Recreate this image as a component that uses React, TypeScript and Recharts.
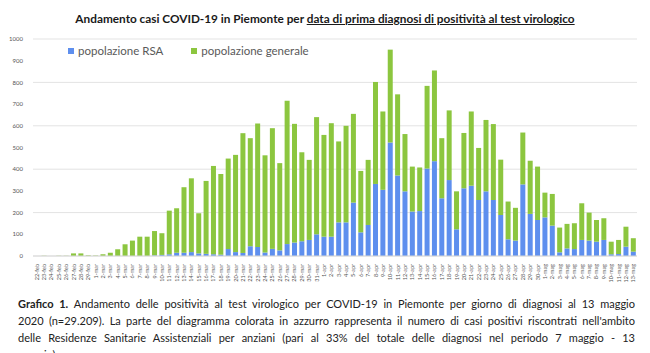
import React from "react";
import { BarChart, Bar, XAxis, YAxis, CartesianGrid } from "recharts";

const dates = [
  "22-feb","23-feb","24-feb","25-feb","26-feb","27-feb","28-feb","29-feb",
  "1-mar","2-mar","3-mar","4-mar","5-mar","6-mar","7-mar","8-mar","9-mar","10-mar",
  "11-mar","12-mar","13-mar","14-mar","15-mar","16-mar","17-mar","18-mar","19-mar","20-mar",
  "21-mar","22-mar","23-mar","24-mar","25-mar","26-mar","27-mar","28-mar","29-mar","30-mar","31-mar",
  "1-apr","2-apr","3-apr","4-apr","5-apr","6-apr","7-apr","8-apr","9-apr","10-apr",
  "11-apr","12-apr","13-apr","14-apr","15-apr","16-apr","17-apr","18-apr","19-apr","20-apr",
  "21-apr","22-apr","23-apr","24-apr","25-apr","26-apr","27-apr","28-apr","29-apr","30-apr",
  "1-mag","2-mag","3-mag","4-mag","5-mag","6-mag","7-mag","8-mag","9-mag","10-mag",
  "11-mag","12-mag","13-mag",
];

const rsa = [
  0,0,0,0,0,0,0,0,
  0,0,0,0,0,0,0,0,3,5,
  8,15,15,18,12,10,8,6,32,18,
  14,45,42,16,33,26,55,62,68,74,100,
  89,89,155,155,246,109,143,332,305,523,
  371,298,205,207,403,437,266,350,123,312,
  324,258,298,258,189,77,71,330,194,166,
  178,140,17,35,32,74,71,66,74,8,
  9,43,20,
];

const generale = [
  0,1,0,1,1,12,12,3,
  2,8,15,31,54,71,89,89,112,100,
  201,205,302,340,185,336,407,372,417,448,
  552,498,569,448,556,402,660,547,410,369,540,
  469,523,373,445,409,283,300,470,361,428,
  374,264,207,201,381,418,277,321,175,255,
  342,240,329,350,255,174,151,239,245,246,
  114,146,114,113,119,169,129,100,100,58,
  65,92,62,
];

const yTicks = [0, 100, 200, 300, 400, 500, 600, 700, 800, 900, 1000];

const captionLines = [
  "Andamento delle positività al test virologico per COVID-19 in Piemonte per giorno di diagnosi al 13 maggio",
  "2020 (n=29.209). La parte del diagramma colorata in azzurro rappresenta il numero di casi positivi riscontrati nell'ambito",
  "delle Residenze Sanitarie Assistenziali per anziani (pari al 33% del totale delle diagnosi nel periodo 7 maggio - 13",
  "maggio).",
];

const data = dates.map((d, i) => ({ date: d, rsa: rsa[i], generale: generale[i] }));

const BLUE = "#5E8FEE";
const GREEN = "#8CC63F";
const FONT = "'Lato', 'DejaVu Sans', sans-serif";

const XTick = (props: any) => {
  const { x, y, payload } = props;
  return (
    <text
      x={x}
      y={y}
      transform={`rotate(-90 ${x} ${y})`}
      textAnchor="end"
      dominantBaseline="central"
      fontSize={5.5}
      fill="#555"
      fontFamily={FONT}
    >
      {payload.value}
    </text>
  );
};

export default function App() {
  return (
    <div
      style={{
        position: "fixed",
        left: 0,
        top: 0,
        width: 650,
        height: 353,
        background: "#fff",
        overflow: "hidden",
        fontFamily: FONT,
      }}
    >
      <div
        style={{
          position: "absolute",
          top: 11,
          left: 0,
          width: 650,
          textAlign: "center",
          fontWeight: 700,
          fontSize: 11.8,
          color: "#1a1a1a",
        }}
      >
        Andamento casi COVID-19 in Piemonte per{" "}
        <span style={{ textDecoration: "underline" }}>
          data di prima diagnosi di positività al test virologico
        </span>
      </div>
      <div style={{ position: "absolute", left: 0, top: 0 }}>
        <BarChart
          width={650}
          height={290}
          data={data}
          margin={{ top: 39, right: 13, bottom: 0, left: 0 }}
          barCategoryGap="16%"
        >
          <CartesianGrid vertical={false} stroke="#e3e3e3" />
          <XAxis
            dataKey="date"
            interval={0}
            tick={<XTick />}
            tickLine={false}
            axisLine={{ stroke: "#d9d9d9" }}
            height={34}
            tickMargin={2}
          />
          <YAxis
            domain={[0, 1000]}
            ticks={yTicks}
            width={33}
            axisLine={false}
            tickLine={false}
            tick={{ fontSize: 6, fill: "#555", fontFamily: FONT }}
            tickMargin={4}
          />
          <Bar dataKey="rsa" stackId="a" fill={BLUE} isAnimationActive={false} />
          <Bar dataKey="generale" stackId="a" fill={GREEN} isAnimationActive={false} />
        </BarChart>
      </div>
      <div
        style={{
          position: "absolute",
          left: 68,
          top: 44,
          display: "flex",
          alignItems: "center",
          fontSize: 11.5,
          color: "#595959",
        }}
      >
        <span style={{ display: "inline-block", width: 6, height: 6, background: BLUE, marginRight: 4 }} />
        <span style={{ marginRight: 28 }}>popolazione RSA</span>
        <span style={{ display: "inline-block", width: 6, height: 6, background: GREEN, marginRight: 4 }} />
        <span>popolazione generale</span>
      </div>
      <div
        style={{
          position: "absolute",
          left: 18,
          top: 295,
          width: 617,
          fontSize: 11,
          lineHeight: "17px",
          color: "#222",
        }}
      >
        {captionLines.map((line, i) => (
          <div
            key={i}
            style={{
              textAlign: "justify",
              textAlignLast: i < captionLines.length - 1 ? "justify" : "left",
              whiteSpace: "nowrap",
            }}
          >
            {i === 0 ? <b>Grafico 1. </b> : null}
            {line}
          </div>
        ))}
      </div>
    </div>
  );
}
